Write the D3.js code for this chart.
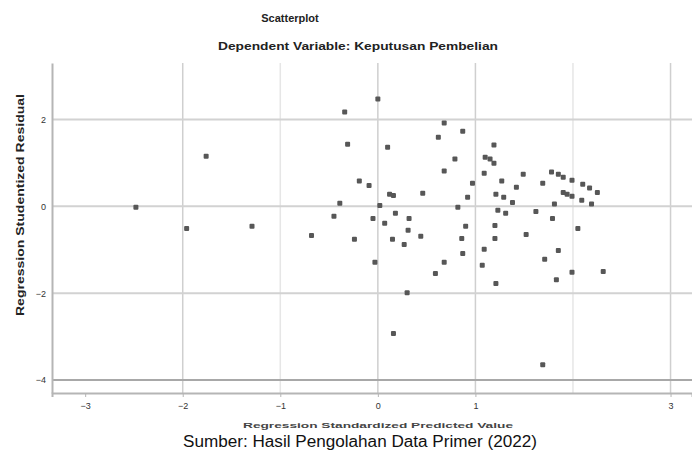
<!DOCTYPE html>
<html>
<head>
<meta charset="utf-8">
<script src="https://cdn.jsdelivr.net/npm/d3@7"></script>
<style>
  body { margin: 0; background: #fff; }
  text { font-family: "Liberation Sans", Arial, sans-serif; }
</style>
</head>
<body>
<div id="scatter"></div>
<script>
// predicted (standardized) values
var predicted = [-2.48, -1.76, -1.96, -1.29, -0.68, -0.45, -0.39, -0.34, -0.31, -0.24,
  -0.19, -0.09, -0.05, -0.03, 0.00, 0.02, 0.07, 0.10, 0.12, 0.16,
  0.15, 0.18, 0.27, 0.30, 0.16, 0.31, 0.32, 0.44, 0.46, 0.59,
  0.62, 0.68, 0.68, 0.68, 0.79, 0.82, 0.86, 0.87, 0.87, 0.90,
  0.92, 0.97, 1.07, 1.09, 1.09, 1.10, 1.15, 1.19, 1.19, 1.20,
  1.20, 1.21, 1.21, 1.23, 1.27, 1.29, 1.31, 1.38, 1.42, 1.49,
  1.52, 1.62, 1.69, 1.69, 1.71, 1.78, 1.85, 1.90, 1.79, 1.81,
  1.83, 1.85, 1.90, 1.94, 1.99, 1.99, 1.99, 2.05, 2.10, 2.17,
  2.25, 2.09, 2.19, 2.31];

// studentized residuals
var residual = [-0.02, 1.15, -0.51, -0.46, -0.67, -0.23, 0.07, 2.17, 1.43, -0.76,
  0.58, 0.48, -0.28, -1.29, 2.47, 0.02, -0.39, 1.36, 0.28, 0.25,
  -0.76, -0.16, -0.88, -1.99, -2.93, -0.55, -0.28, -0.69, 0.30, -1.55,
  1.59, 1.92, 0.81, -1.29, 1.09, -0.02, -0.74, 1.73, -1.09, -0.46,
  0.21, 0.53, -1.36, -0.99, 0.76, 1.13, 1.09, 0.99, 1.41, -0.44,
  -0.74, 0.28, -1.78, -0.09, 0.58, 0.21, -0.16, 0.09, 0.44, 0.74,
  -0.65, -0.12, 0.53, -3.65, -1.22, 0.79, 0.74, 0.67, -0.28, 0.05,
  -1.69, -1.02, 0.32, 0.28, 0.23, 0.60, -1.52, -0.51, 0.51, 0.42,
  0.32, 0.14, 0.05, -1.50];

var xTicks = [-3, -2, -1, 0, 1, 3];
var xGrid = [-2, -1, 0, 1, 2, 3];
var yTicks = [-4, -2, 0, 2];

var title = "Scatterplot";
var subtitle = "Dependent Variable: Keputusan Pembelian";
var xTitle = "Regression Standardized Predicted Value";
var yTitle = "Regression Studentized Residual";
var caption = "Sumber: Hasil Pengolahan Data Primer (2022)";

var svgWidth = 692;
var svgHeight = 452;

var margin = { top: 63, right: 0, bottom: 59, left: 52 };
var width = svgWidth - margin.left - margin.right;
var height = svgHeight - margin.top - margin.bottom;

var svg = d3.select("#scatter")
  .append("svg")
  .attr("width", svgWidth)
  .attr("height", svgHeight);

var chartGroup = svg.append("g")
  .attr("transform", `translate(${margin.left}, ${margin.top})`);

var xLinearScale = d3.scaleLinear()
  .domain([-3.34, 3.22])
  .range([0, width]);

var yLinearScale = d3.scaleLinear()
  .domain([-4.3, 3.3])
  .range([height, 0]);

// grid lines
chartGroup.selectAll(".vgrid")
  .data(xGrid)
  .enter()
  .append("line")
  .attr("class", "vgrid")
  .attr("x1", d => xLinearScale(d))
  .attr("x2", d => xLinearScale(d))
  .attr("y1", 0)
  .attr("y2", height)
  .attr("stroke", d => (d === -1 || d === 2) ? "#e6e6e6" : "#cfcfcf")
  .attr("stroke-width", 1.5);

chartGroup.selectAll(".hgrid")
  .data(yTicks)
  .enter()
  .append("line")
  .attr("class", "hgrid")
  .attr("x1", 0)
  .attr("x2", width)
  .attr("y1", d => yLinearScale(d))
  .attr("y2", d => yLinearScale(d))
  .attr("stroke", d => d === -4 ? "#a8a8a8" : "#d2d2d2")
  .attr("stroke-width", 2);

// axes
var bottomAxis = d3.axisBottom(xLinearScale)
  .tickValues(xTicks)
  .tickFormat(d3.format("d"))
  .tickSize(4)
  .tickPadding(6);
var leftAxis = d3.axisLeft(yLinearScale)
  .tickValues(yTicks)
  .tickFormat(d3.format("d"))
  .tickSize(0)
  .tickPadding(6);

var xAxis = chartGroup.append("g")
  .attr("transform", `translate(0, ${height})`)
  .call(bottomAxis);

var yAxis = chartGroup.append("g")
  .call(leftAxis);

[xAxis, yAxis].forEach(function(ax) {
  ax.select(".domain").attr("stroke", "#b5b5b5").attr("stroke-width", 2);
  ax.selectAll(".tick line").attr("stroke", "#b5b5b5");
  ax.selectAll("text")
    .attr("font-size", "9px")
    .attr("fill", "#333");
});

// points
chartGroup.selectAll(".pt")
  .data(predicted)
  .enter()
  .append("rect")
  .attr("class", "pt")
  .attr("x", (d, i) => xLinearScale(d) - 2.5)
  .attr("y", (d, i) => yLinearScale(residual[i]) - 2.5)
  .attr("width", 5)
  .attr("height", 5)
  .attr("rx", 1)
  .attr("fill", "#575757");

// titles
svg.append("text")
  .attr("x", 290)
  .attr("y", 22)
  .attr("text-anchor", "middle")
  .attr("font-size", "11px")
  .attr("font-weight", "bold")
  .attr("fill", "#222")
  .text(title);

svg.append("text")
  .attr("x", 358)
  .attr("y", 50)
  .attr("text-anchor", "middle")
  .attr("font-size", "11px")
  .attr("font-weight", "bold")
  .attr("fill", "#222")
  .attr("textLength", 280)
  .attr("lengthAdjust", "spacingAndGlyphs")
  .text(subtitle);

svg.append("text")
  .attr("transform", "rotate(-90)")
  .attr("x", -205)
  .attr("y", 24)
  .attr("text-anchor", "middle")
  .attr("font-size", "11px")
  .attr("font-weight", "bold")
  .attr("fill", "#222")
  .attr("textLength", 222)
  .attr("lengthAdjust", "spacingAndGlyphs")
  .text(yTitle);

svg.append("text")
  .attr("x", 378)
  .attr("y", 428)
  .attr("text-anchor", "middle")
  .attr("font-size", "8px")
  .attr("font-weight", "bold")
  .attr("fill", "#444")
  .attr("textLength", 270)
  .attr("lengthAdjust", "spacingAndGlyphs")
  .text(xTitle);

svg.append("text")
  .attr("x", 360)
  .attr("y", 447)
  .attr("text-anchor", "middle")
  .attr("font-size", "16px")
  .attr("fill", "#111")
  .attr("textLength", 354)
  .attr("lengthAdjust", "spacingAndGlyphs")
  .text(caption);
</script>
</body>
</html>
